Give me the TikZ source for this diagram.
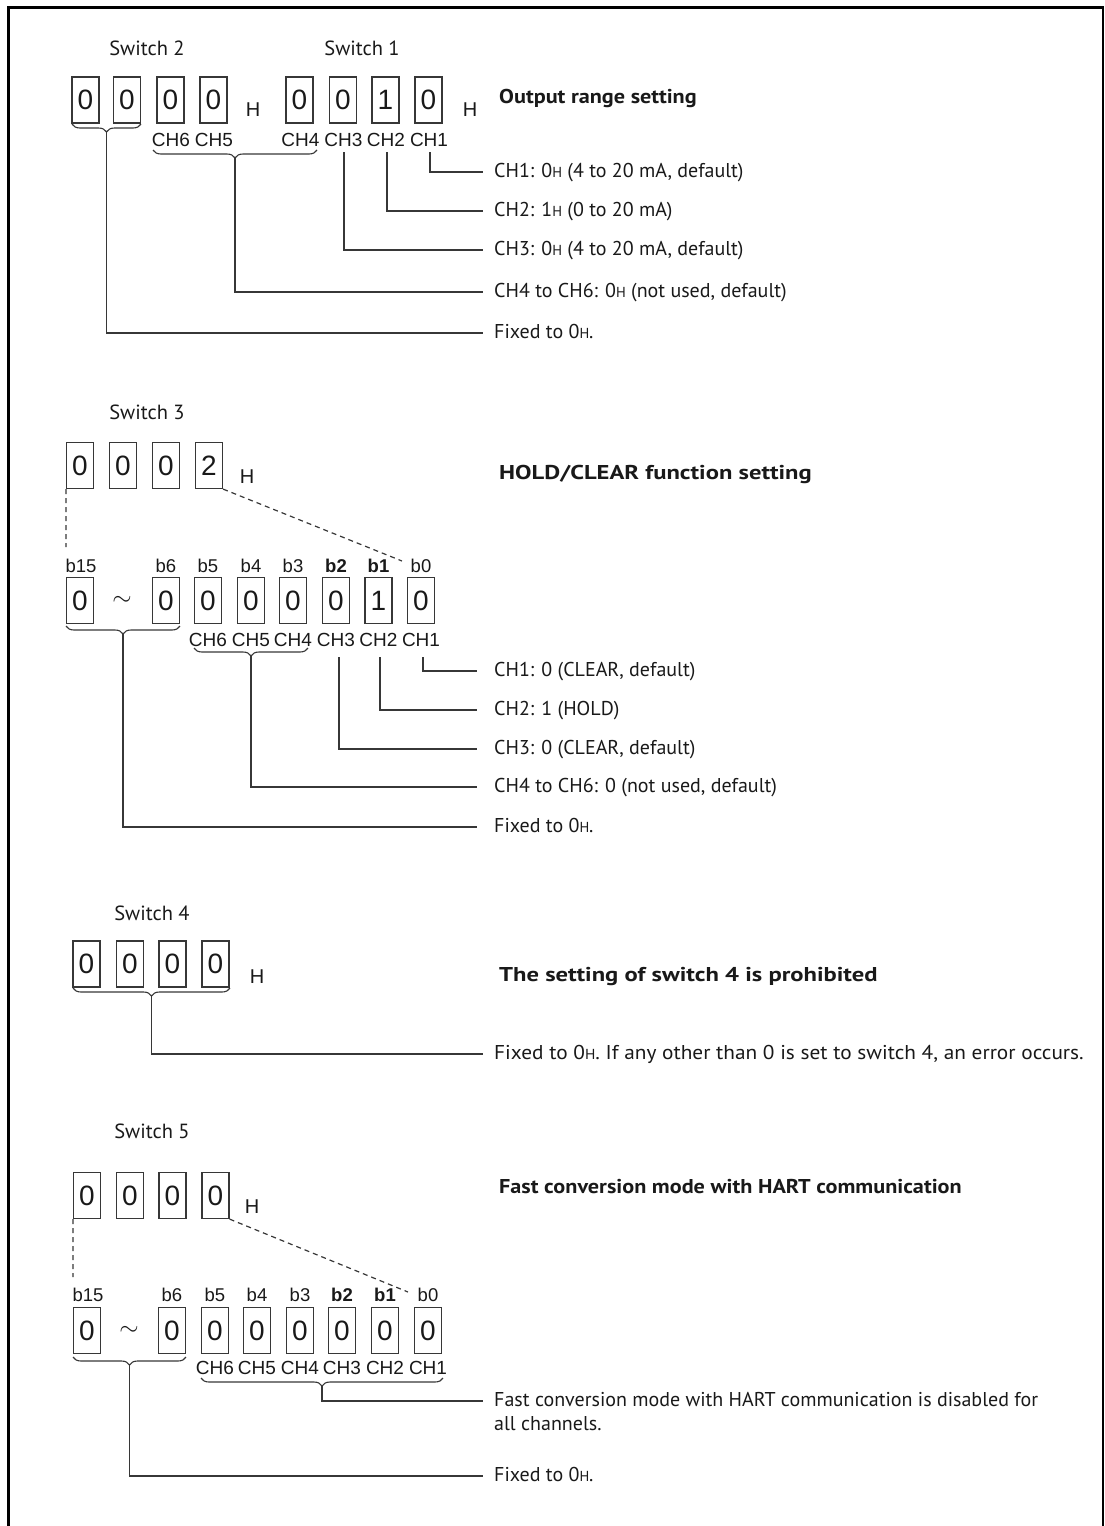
\documentclass[tikz,border=0pt]{standalone}
\usepackage{fontspec}
\setmainfont{PT Sans}
\newfontfamily\arialf{Liberation Sans}
\usetikzlibrary{decorations.pathreplacing}
\definecolor{lc}{RGB}{55,55,55}
\definecolor{tc}{RGB}{25,25,25}
\newcommand{\hsub}{{\fontsize{14.5}{14.5}\selectfont H}}
\tikzset{
 dig/.style={draw=lc, line width=1.2pt, minimum width=27pt, minimum height=46pt, inner sep=0pt, text=tc, font=\arialf\fontsize{28}{28}\selectfont},
 tld/.style={inner sep=0pt, text=tc, font=\fontsize{28}{28}\selectfont},
 hx/.style={font=\arialf\fontsize{20}{20}\selectfont, inner sep=0pt, text=tc},
 chl/.style={font=\arialf\fontsize{19}{19}\selectfont, inner sep=0pt, text=tc},
 bitl/.style={font=\arialf\fontsize{18.5}{18.5}\selectfont, inner sep=0pt, text=tc},
 bitb/.style={font=\arialf\bfseries\fontsize{18.5}{18.5}\selectfont, inner sep=0pt, text=tc},
 swl/.style={font=\fontsize{20.5}{20.5}\selectfont, inner sep=0pt, text=tc},
 dtext/.style={anchor=base west, font=\fontsize{20}{24}\selectfont, inner sep=0pt, text=tc},
 hdg/.style={anchor=west, font=\bfseries\fontsize{20}{20}\selectfont, inner sep=0pt, text=tc},
 conn/.style={draw=lc, line width=1.2pt},
 brc/.style={draw=lc, line width=1.1pt, decorate, decoration={brace, mirror, amplitude=8pt}},
 dsh/.style={draw=lc, line width=1.2pt, dash pattern=on 5pt off 4pt},
}
\begin{document}
\begin{tikzpicture}[x=1pt,y=-1pt]
\useasboundingbox (0,0) rectangle (1105,1526);
\draw[line width=2.5pt] (8.5,1526) -- (8.5,7.5) -- (1103,7.5) -- (1103,1526);

% ===== Section 1 =====
\node[swl] (sw2) at (147,48) {Switch 2};
\node[swl] (sw1) at (362,48) {Switch 1};
\node[dig] (a1) at (85.5,100) {0};
\node[dig] (a2) at (127,100) {0};
\node[dig] (a3) at (170.5,100) {0};
\node[dig] (a4) at (213.5,100) {0};
\node[dig] (a5) at (299.5,100) {0};
\node[dig] (a6) at (343,100) {0};
\node[dig] (a7) at (385.5,100) {1};
\node[dig] (a8) at (428.5,100) {0};
\node[hx] (ha) at (253,110) {H};
\node[hx] (hb) at (470,110) {H};
\node[hdg] (hd1) at (499,98) {\scalebox{1.11}[1]{Output range setting}};
\node[chl] (ca6) at (171,140) {CH6};
\node[chl] (ca5) at (214,140) {CH5};
\node[chl] (ca4) at (300.5,140) {CH4};
\node[chl] (ca3) at (343.5,140) {CH3};
\node[chl] (ca2) at (386,140) {CH2};
\node[chl] (ca1) at (429,140) {CH1};
\draw[brc] (72,124) -- (141,124);
\draw[brc] (153,150) -- (317,150);
\coordinate (ta1) at (106.5,132);
\coordinate (ta2) at (235,158);
\coordinate (la3) at (344,152);
\coordinate (la2) at (387,152);
\coordinate (la1) at (430,152);
\coordinate (ea1) at (483,172);
\coordinate (ea2) at (483,211);
\coordinate (ea3) at (483,250);
\coordinate (ea4) at (483,292);
\coordinate (ea5) at (483,333);
\draw[conn] (la1) |- (ea1);
\draw[conn] (la2) |- (ea2);
\draw[conn] (la3) |- (ea3);
\draw[conn] (ta2) |- (ea4);
\draw[conn] (ta1) |- (ea5);
\node[dtext] (da1) at (494,177) {CH1: 0\hsub{} (4 to 20 mA, default)};
\node[dtext] (da2) at (494,216) {CH2: 1\hsub{} (0 to 20 mA)};
\node[dtext] (da3) at (494,255) {CH3: 0\hsub{} (4 to 20 mA, default)};
\node[dtext] (da4) at (494,297) {CH4 to CH6: 0\hsub{} (not used, default)};
\node[dtext] (da5) at (494,338) {Fixed to 0\hsub.};

% ===== Section 2 =====
\node[swl] (sw3) at (147,412) {Switch 3};
\node[dig] (bt1) at (80,465.5) {0};
\node[dig] (bt2) at (123,465.5) {0};
\node[dig] (bt3) at (166,465.5) {0};
\node[dig] (bt4) at (209,465.5) {2};
\node[hx] (hc) at (247,477) {H};
\node[hdg] (hd2) at (499,474) {\scalebox{1.23}[1]{HOLD/CLEAR function setting}};
\coordinate (dv1) at (66,547);
\coordinate (dd1) at (402,561);
\draw[dsh] (bt1.south west) -- (dv1);
\draw[dsh] (bt4.south east) -- (dd1);
\node[bitl] (bl15) at (81,566) {b15};
\node[bitl] (bl6) at (166,566) {b6};
\node[bitl] (bl5) at (208,566) {b5};
\node[bitl] (bl4) at (251,566) {b4};
\node[bitl] (bl3) at (293,566) {b3};
\node[bitb] (bl2) at (336,566) {b2};
\node[bitb] (bl1) at (378.5,566) {b1};
\node[bitl] (bl0) at (421,566) {b0};
\node[dig] (bb15) at (80,600.5) {0};
\node[tld] (bbt) at (122,600.5) {$\sim$};
\node[dig] (bb6) at (166,600.5) {0};
\node[dig] (bb5) at (208,600.5) {0};
\node[dig] (bb4) at (251,600.5) {0};
\node[dig] (bb3) at (293,600.5) {0};
\node[dig] (bb2) at (336,600.5) {0};
\node[dig] (bb1) at (378.5,600.5) {1};
\node[dig] (bb0) at (421,600.5) {0};
\node[chl] (cb6) at (208,640) {CH6};
\node[chl] (cb5) at (251,640) {CH5};
\node[chl] (cb4) at (293,640) {CH4};
\node[chl] (cb3) at (336,640) {CH3};
\node[chl] (cb2) at (378.5,640) {CH2};
\node[chl] (cb1) at (421,640) {CH1};
\draw[brc] (66,626) -- (180,626);
\draw[brc] (194,648) -- (308,648);
\coordinate (tb1) at (123,634);
\coordinate (tb2) at (251,656);
\coordinate (lb3) at (339,657);
\coordinate (lb2) at (380,657);
\coordinate (lb1) at (423,657);
\coordinate (eb1) at (477,671);
\coordinate (eb2) at (477,710);
\coordinate (eb3) at (477,749);
\coordinate (eb4) at (477,787);
\coordinate (eb5) at (477,827);
\draw[conn] (lb1) |- (eb1);
\draw[conn] (lb2) |- (eb2);
\draw[conn] (lb3) |- (eb3);
\draw[conn] (tb2) |- (eb4);
\draw[conn] (tb1) |- (eb5);
\node[dtext] (db1) at (494,676) {CH1: 0 (CLEAR, default)};
\node[dtext] (db2) at (494,715) {CH2: 1 (HOLD)};
\node[dtext] (db3) at (494,754) {CH3: 0 (CLEAR, default)};
\node[dtext] (db4) at (494,792) {CH4 to CH6: 0 (not used, default)};
\node[dtext] (db5) at (494,832) {Fixed to 0\hsub.};

% ===== Section 3 =====
\node[swl] (sw4) at (152,913) {Switch 4};
\node[dig] (c1) at (86.5,964) {0};
\node[dig] (c2) at (130,964) {0};
\node[dig] (c3) at (172.5,964) {0};
\node[dig] (c4) at (215.5,964) {0};
\node[hx] (hd) at (257,977) {H};
\node[hdg] (hd3) at (499,976) {\scalebox{1.23}[1]{The setting of switch 4 is prohibited}};
\draw[brc] (73,988) -- (230,988);
\coordinate (tc1) at (151.5,996);
\coordinate (ec1) at (483,1054);
\draw[conn] (tc1) |- (ec1);
\node[dtext] (dc1) at (494,1059) {\scalebox{1.065}[1]{Fixed to 0\hsub. If any other than 0 is set to switch 4, an error occurs.}};

% ===== Section 4 =====
\node[swl] (sw5) at (152,1131) {Switch 5};
\node[dig] (dt1) at (87,1195.5) {0};
\node[dig] (dt2) at (130,1195.5) {0};
\node[dig] (dt3) at (172.5,1195.5) {0};
\node[dig] (dt4) at (215.5,1195.5) {0};
\node[hx] (he) at (252,1207) {H};
\node[hdg] (hd4) at (499,1187) {\scalebox{1.11}[1]{Fast conversion mode with HART communication}};
\coordinate (dv2) at (73,1277);
\coordinate (dd2) at (408,1292);
\draw[dsh] (dt1.south west) -- (dv2);
\draw[dsh] (dt4.south east) -- (dd2);
\node[bitl] (dl15) at (88,1295) {b15};
\node[bitl] (dl6) at (172,1295) {b6};
\node[bitl] (dl5) at (215,1295) {b5};
\node[bitl] (dl4) at (257,1295) {b4};
\node[bitl] (dl3) at (300,1295) {b3};
\node[bitb] (dl2) at (342,1295) {b2};
\node[bitb] (dl1) at (385,1295) {b1};
\node[bitl] (dl0) at (428,1295) {b0};
\node[dig] (db15) at (87,1330.5) {0};
\node[tld] (dbt) at (129,1330.5) {$\sim$};
\node[dig] (db6) at (172,1330.5) {0};
\node[dig] (db5) at (215,1330.5) {0};
\node[dig] (db4b) at (257,1330.5) {0};
\node[dig] (db3b) at (300,1330.5) {0};
\node[dig] (db2b) at (342,1330.5) {0};
\node[dig] (db1b) at (385,1330.5) {0};
\node[dig] (db0) at (428,1330.5) {0};
\node[chl] (cd6) at (215,1368) {CH6};
\node[chl] (cd5) at (257,1368) {CH5};
\node[chl] (cd4) at (300,1368) {CH4};
\node[chl] (cd3) at (342,1368) {CH3};
\node[chl] (cd2) at (385,1368) {CH2};
\node[chl] (cd1) at (428,1368) {CH1};
\draw[brc] (73,1357) -- (186,1357);
\draw[brc] (201,1378) -- (443,1378);
\coordinate (td1) at (129.5,1365);
\coordinate (td2) at (322,1386);
\coordinate (ed1) at (483,1401);
\coordinate (ed2) at (483,1476);
\draw[conn] (td2) |- (ed1);
\draw[conn] (td1) |- (ed2);
\node[dtext] (dd1t) at (494,1406) {Fast conversion mode with HART communication is disabled for};
\node[dtext] (dd1u) at (494,1430) {all channels.};
\node[dtext] (dd2t) at (494,1481) {Fixed to 0\hsub.};
\end{tikzpicture}
\end{document}
